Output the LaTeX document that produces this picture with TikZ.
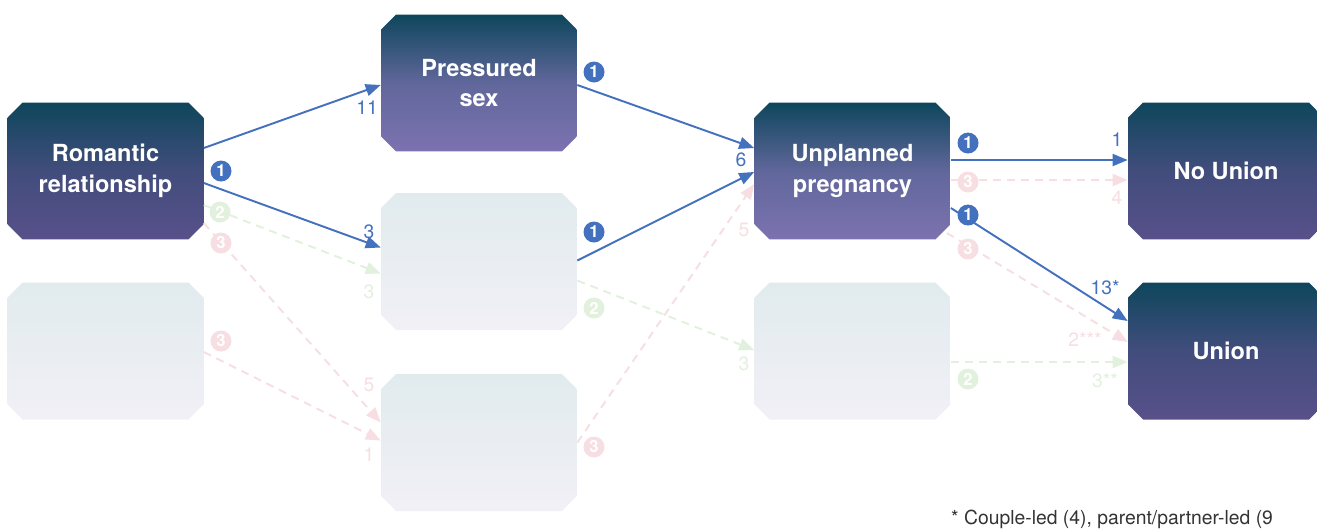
\documentclass[tikz,border=0pt]{standalone}
\usepackage{fontspec}
\setmainfont{TeX Gyre Heros}
\usetikzlibrary{arrows.meta}
\definecolor{linkblue}{RGB}{68,113,190}
\definecolor{fadered}{RGB}{246,222,226}
\definecolor{fadegreen}{RGB}{226,240,222}
\definecolor{deepteal}{RGB}{14,70,92}
\definecolor{darkviolet}{RGB}{88,80,138}
\definecolor{lightviolet}{RGB}{124,114,176}
\definecolor{paleteal}{RGB}{225,235,238}
\definecolor{palegrey}{RGB}{241,240,246}
% chamfered outline of a box, cut 0.3cm at each corner
\newcommand\chamferpath{([xshift=0.3cm]path picture bounding box.north west) -- ([xshift=-0.3cm]path picture bounding box.north east) -- ([yshift=-0.3cm]path picture bounding box.north east) -- ([yshift=0.3cm]path picture bounding box.south east) -- ([xshift=-0.3cm]path picture bounding box.south east) -- ([xshift=0.3cm]path picture bounding box.south west) -- ([yshift=0.3cm]path picture bounding box.south west) -- ([yshift=-0.3cm]path picture bounding box.north west) -- cycle}

\begin{document}
\begin{tikzpicture}[x=0.02cm,y=-0.02cm,
    stage/.style={rectangle,minimum width=3.92cm,minimum height=2.74cm,inner sep=0,text=white,align=center,font=\fontsize{13.4}{17.6}\selectfont\bfseries},
    dark/.style={stage,path picture={\shade[top color=deepteal,bottom color=darkviolet,middle color=darkviolet!70!deepteal] \chamferpath;}},
    light/.style={stage,path picture={\shade[top color=deepteal,bottom color=lightviolet,middle color=lightviolet!75!deepteal] \chamferpath;}},
    faint/.style={stage,path picture={\shade[top color=paleteal,bottom color=palegrey] \chamferpath;}},
    link/.style={linkblue,line width=1.1pt,-{Triangle[length=0.3cm,width=0.24cm]}},
    redlink/.style={fadered,line width=1.1pt,dash pattern=on 0.16cm off 0.12cm,-{Triangle[length=0.3cm,width=0.24cm]}},
    greenlink/.style={fadegreen,line width=1.1pt,dash pattern=on 0.16cm off 0.12cm,-{Triangle[length=0.3cm,width=0.24cm]}},
    badge/.style={circle,fill=linkblue,text=white,minimum size=0.42cm,inner sep=0,font=\fontsize{9.5}{9.5}\selectfont\bfseries},
    count/.style={text=linkblue,font=\fontsize{11}{13}\selectfont}]
  \useasboundingbox (0,0) rectangle (1317,529);

  % boxes
  \node[dark] (rom) at (105.5,171) {Romantic\\relationship};
  \node[faint] (left2) at (105.5,351) {};
  \node[light] (press) at (479,83) {Pressured\\sex};
  \node[faint] (mida) at (479,261.5) {};
  \node[faint] (lowb) at (479,442.5) {};
  \node[light] (preg) at (852.5,171) {Unplanned\\pregnancy};
  \node[faint] (mid3) at (852.5,351) {};
  \node[dark] (nounion) at (1226,171) {No Union};
  \node[dark] (union) at (1226,351) {Union};

  % faded paths
  \draw[greenlink] ([shift={(0,34)}]rom.east) -- ([shift={(0,12)}]mida.west);
  \draw[redlink] ([shift={(0,52)}]rom.east) -- ([shift={(0,-20)}]lowb.west);
  \draw[redlink] ([shift={(0,1)}]left2.east) -- ([shift={(0,-2)}]lowb.west);
  \draw[greenlink] ([shift={(0,19)}]mida.east) -- ([shift={(0,-1)}]mid3.west);
  \draw[redlink] (lowb.east) -- ([shift={(0,13)}]preg.west);
  \draw[redlink] ([shift={(0,9)}]preg.east) -- ([shift={(0,9)}]nounion.west);
  \draw[redlink] ([shift={(-4,62)}]preg.east) -- ([shift={(0,-9)}]union.west);
  \draw[greenlink] ([shift={(0,11)}]mid3.east) -- ([shift={(0,11)}]union.west);

  % main paths
  \draw[link] ([shift={(0,-23)}]rom.east) -- ([shift={(0,2)}]press.west);
  \draw[link] ([shift={(0,12)}]rom.east) -- ([shift={(0,-14)}]mida.west);
  \draw[link] ([shift={(0,2)}]press.east) -- ([shift={(0,-23)}]preg.west);
  \draw[link] ([shift={(0,-1)}]mida.east) -- ([shift={(0,1)}]preg.west);
  \draw[link] ([shift={(0,-11)}]preg.east) -- ([shift={(0,-11)}]nounion.west);
  \draw[link] ([shift={(0,37)}]preg.east) -- ([shift={(0,-30)}]union.west);

  % badges
  \node[badge] (b1) at (221,171) {1};
  \node[badge] (b2) at (594,72) {1};
  \node[badge] (b3) at (594,232) {1};
  \node[badge] (b4) at (968,143) {1};
  \node[badge] (b5) at (968,215) {1};
  \node[badge,fill=fadegreen] (g1) at (220,212) {2};
  \node[badge,fill=fadegreen] (g2) at (594,308) {2};
  \node[badge,fill=fadegreen] (g3) at (968,379) {2};
  \node[badge,fill=fadered] (r1) at (221,243) {3};
  \node[badge,fill=fadered] (r2) at (221,341) {3};
  \node[badge,fill=fadered] (r3) at (594,447) {3};
  \node[badge,fill=fadered] (r4) at (968,182) {3};
  \node[badge,fill=fadered] (r5) at (968,249) {3};

  % counts
  \node[count] (c1) at (367,108) {11};
  \node[count] (c2) at (369,232) {3};
  \node[count] (c3) at (741,160) {6};
  \node[count] (c4) at (1117,140) {1};
  \node[count] (c5) at (1105,288) {13*};
  \node[count,text=fadegreen] (c6) at (369,292) {3};
  \node[count,text=fadegreen] (c7) at (744,364) {3};
  \node[count,text=fadegreen] (c8) at (1105,381) {3**};
  \node[count,text=fadered] (c9) at (369,385) {5};
  \node[count,text=fadered] (c10) at (369,455) {1};
  \node[count,text=fadered] (c11) at (744,230) {5};
  \node[count,text=fadered] (c12) at (1117,198) {4};
  \node[count,text=fadered] (c13) at (1085,339) {2***};

  \node[count,text=black!80,anchor=base west] (note) at (945,524) {* Couple-led (4), parent/partner-led (9};
\end{tikzpicture}
\end{document}
